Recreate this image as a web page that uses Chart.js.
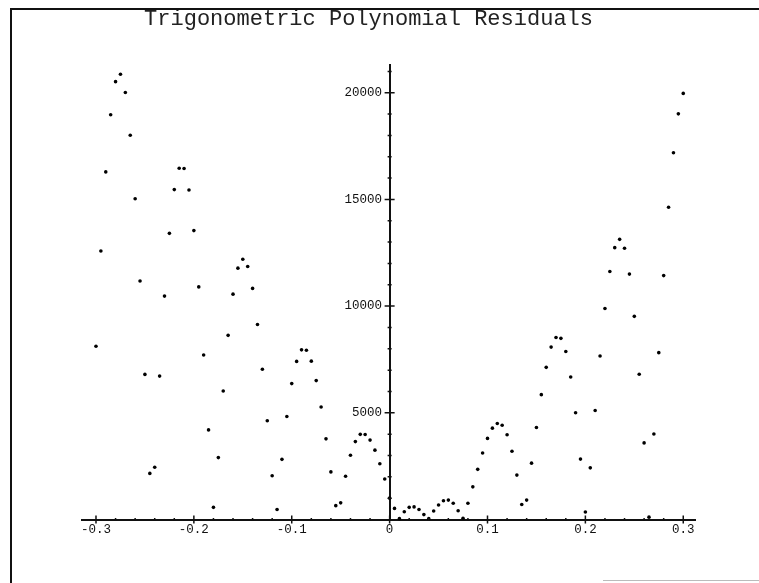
<!DOCTYPE html>
<html>
<head>
<meta charset="utf-8">
<style>
html,body{margin:0;padding:0;background:#fff;}
#wrap{position:relative;width:759px;height:583px;overflow:hidden;}
canvas{display:block;}
.frameTop{position:absolute;left:10px;top:8px;width:749px;height:0;border-top:2px solid #111;pointer-events:none;}
.frameLeft{position:absolute;left:10px;top:8px;width:0;height:575px;border-left:2px solid #111;pointer-events:none;}
.frameBottom{position:absolute;left:603px;top:580px;width:156px;height:0;border-top:1px solid #bbb;pointer-events:none;}
</style>
<script src="https://cdn.jsdelivr.net/npm/chart.js@4"></script>
</head>
<body>
<div id="wrap">
<canvas id="c" width="759" height="583"></canvas>
<div class="frameTop"></div>
<div class="frameLeft"></div>
<div class="frameBottom"></div>
</div>
<script>
const chartTitle = 'Trigonometric Polynomial Residuals';

const xValues = [
 -0.300,-0.295,-0.290,-0.285,-0.280,-0.275,-0.270,-0.265,-0.260,-0.255,
 -0.250,-0.245,-0.240,-0.235,-0.230,-0.225,-0.220,-0.215,-0.210,-0.205,
 -0.200,-0.195,-0.190,-0.185,-0.180,-0.175,-0.170,-0.165,-0.160,-0.155,
 -0.150,-0.145,-0.140,-0.135,-0.130,-0.125,-0.120,-0.115,-0.110,-0.105,
 -0.100,-0.095,-0.090,-0.085,-0.080,-0.075,-0.070,-0.065,-0.060,-0.055,
 -0.050,-0.045,-0.040,-0.035,-0.030,-0.025,-0.020,-0.015,-0.010,-0.005,
  0.000, 0.005, 0.010, 0.015, 0.020, 0.025, 0.030, 0.035, 0.040, 0.045,
  0.050, 0.055, 0.060, 0.065, 0.070, 0.075, 0.080, 0.085, 0.090, 0.095,
  0.100, 0.105, 0.110, 0.115, 0.120, 0.125, 0.130, 0.135, 0.140, 0.145,
  0.150, 0.155, 0.160, 0.165, 0.170, 0.175, 0.180, 0.185, 0.190, 0.195,
  0.200, 0.205, 0.210, 0.215, 0.220, 0.225, 0.230, 0.235, 0.240, 0.245,
  0.250, 0.255, 0.260, 0.265, 0.270, 0.275, 0.280, 0.285, 0.290, 0.295,
  0.300
];

const residuals = [
  8120,12580,16290,18970,20520,20870,20010,18010,15030,11180,
  6800, 2160, 2450, 6720,10470,13410,15460,16460,16450,15440,
 13540,10900, 7710, 4200,  570, 2900, 6020, 8630,10560,11780,
 12200,11860,10830, 9140, 7040, 4630, 2050,  470, 2820, 4830,
  6370, 7410, 7950, 7930, 7420, 6510, 5270, 3780, 2230,  650,
   780, 2030, 3010, 3650, 3990, 3980, 3720, 3250, 2610, 1900,
  1000,  520,   40,  360,  570,  590,  470,  230,   40,  400,
   680,  880,  910,  760,  410,   60,  760, 1530, 2350, 3120,
  3800, 4280, 4500, 4420, 3970, 3200, 2080,  700,  910, 2640,
  4310, 5850, 7130, 8080, 8530, 8490, 7870, 6680, 5000, 2830,
   350, 2420, 5110, 7660, 9890,11620,12740,13130,12710,11500,
  9520, 6810, 3590,  110, 4010, 7820,11430,14630,17190,19010,
 19970
];

// major (labelled) ticks
const xMajorTicks = [-0.3, -0.2, -0.1, 0, 0.1, 0.2, 0.3];
const yMajorTicks = [5000, 10000, 15000, 20000];
// all tick marks on the vertical axis (minor every 1000)
const yTickValues = [0, 1000, 2000, 3000, 4000, 5000, 6000, 7000, 8000, 9000, 10000,
  11000, 12000, 13000, 14000, 15000, 16000, 17000, 18000, 19000, 20000, 21000];

const points = xValues.map((x, i) => ({x: x, y: residuals[i]}));
const monoFont = "'Liberation Mono', 'DejaVu Sans Mono', monospace";

function isMajor(v, list) {
  return list.some(m => Math.abs(m - v) < 1e-9);
}

const axisTicks = {
  id: 'axisTicks',
  afterDraw(chart) {
    const {ctx, scales: {x, y}} = chart;
    const x0 = x.getPixelForValue(0), y0 = y.getPixelForValue(0);
    ctx.save();
    ctx.strokeStyle = '#111';
    ctx.lineWidth = 1.5;
    ctx.beginPath();
    x.ticks.forEach(t => {
      const p = x.getPixelForValue(t.value);
      const L = isMajor(t.value, xMajorTicks) ? 4 : 1.5;
      ctx.moveTo(p, y0 - L); ctx.lineTo(p, y0 + L);
    });
    y.ticks.forEach(t => {
      if (t.value === 0) return;
      const p = y.getPixelForValue(t.value);
      const L = isMajor(t.value, yMajorTicks) ? 5 : 2;
      ctx.moveTo(x0 - L, p); ctx.lineTo(x0 + L, p);
    });
    ctx.stroke();
    ctx.restore();
  }
};

new Chart(document.getElementById('c'), {
  type: 'scatter',
  data: {
    datasets: [{
      data: points,
      pointRadius: 1.8,
      pointHoverRadius: 1.8,
      pointBackgroundColor: '#000',
      pointBorderWidth: 0,
      clip: false
    }]
  },
  options: {
    responsive: false,
    animation: false,
    layout: { padding: { left: 81.7, right: 64, top: 6, bottom: 63.5 } },
    plugins: {
      legend: { display: false },
      tooltip: { enabled: false },
      title: {
        display: true,
        text: chartTitle + '   ',
        color: '#222',
        font: { family: monoFont, size: 22, weight: 'normal', lineHeight: 1.2 },
        padding: { top: 0, bottom: 32.6 }
      }
    },
    scales: {
      x: {
        type: 'linear',
        position: { y: 0 },
        min: -0.3146,
        max: 0.312,
        grid: { display: false, drawTicks: false },
        border: { display: true, color: '#111', width: 2 },
        ticks: {
          stepSize: 0.02,
          includeBounds: false,
          autoSkip: false,
          maxRotation: 0,
          padding: 3,
          color: '#111',
          font: { family: monoFont, size: 12.5 },
          callback: (v) => isMajor(v, xMajorTicks) ? (Math.abs(v) < 1e-9 ? '0' : v.toFixed(1)) : ''
        }
      },
      y: {
        type: 'linear',
        position: { x: 0 },
        min: 0,
        max: 21300,
        grid: { display: false, drawTicks: false },
        border: { display: true, color: '#111', width: 2 },
        afterBuildTicks: (scale) => { scale.ticks = yTickValues.map(v => ({value: v})); },
        ticks: {
          autoSkip: false,
          padding: 0,
          color: '#111',
          font: { family: monoFont, size: 12.5 },
          callback: (v) => isMajor(v, yMajorTicks) ? String(v) + ' ' : ''
        }
      }
    }
  },
  plugins: [axisTicks]
});
</script>
</body>
</html>
